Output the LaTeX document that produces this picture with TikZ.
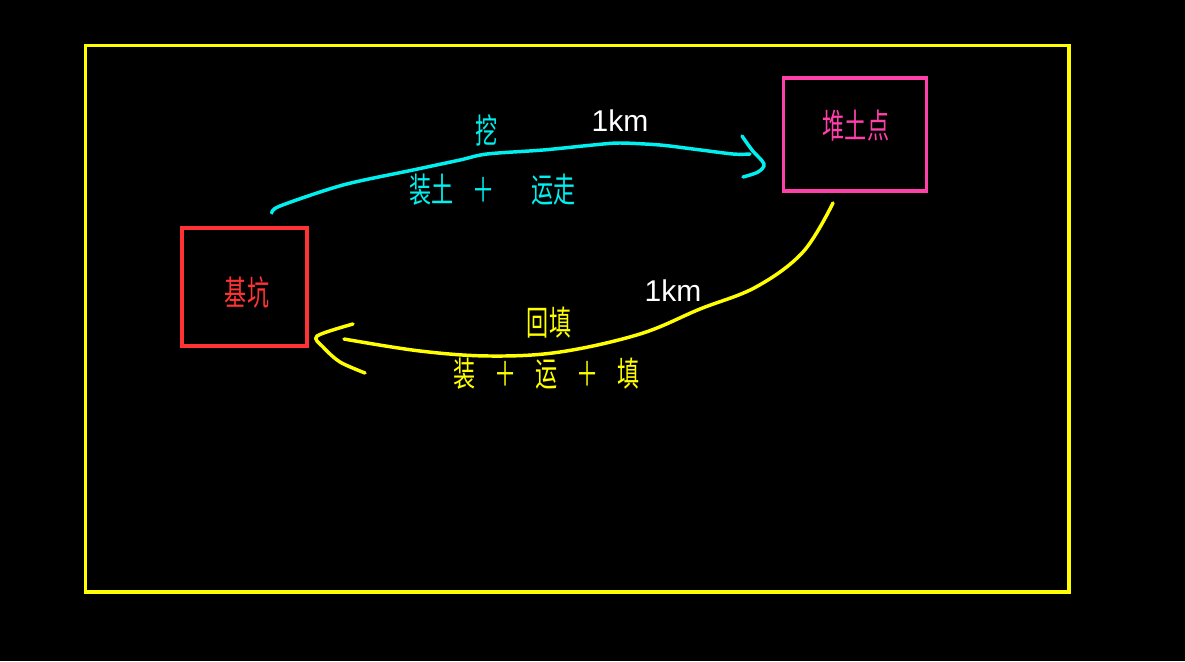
\documentclass[tikz,border=0pt]{standalone}
\usepackage{fontspec}
\setmainfont{Liberation Sans}
\newfontfamily\cjk{Noto Sans CJK SC}
\definecolor{cadyellow}{RGB}{255,255,0}
\definecolor{cadcyan}{RGB}{0,240,240}
\definecolor{cadred}{RGB}{255,51,51}
\definecolor{cadpink}{RGB}{255,64,170}
\tikzset{
  cadbox/.style={draw, line width=2.5pt, inner sep=0pt},
  cadtext/.style={inner sep=0pt, xscale=0.65, font=\cjk\fontsize{25.5}{30}\selectfont},
  kmtext/.style={inner sep=0pt, text=white, font=\fontsize{22.5}{26}\selectfont},
  route/.style={line width=2.6pt, line cap=round, line join=round}
}

\begin{document}
\begin{tikzpicture}[x=0.75pt,y=0.75pt,yscale=-1,xscale=1]
	\fill[black] (0,0) rectangle (1185,661);
	\useasboundingbox (0,0) rectangle (1185,661);
	\draw [cadyellow, line width=2.5pt] (85.5,45.5) rectangle (1069,592);
	% boxes
	\node [cadbox, cadred, minimum width=93.75pt, minimum height=88.5pt] (jikeng) at (244.5,287) {};
	\node [cadbox, cadpink, minimum width=107.25pt, minimum height=84.75pt] (duitu) at (855,134.5) {};
	\node [cadtext, text=cadred] (jikenglbl) at (247,293) {基坑};
	\node [cadtext, text=cadpink] (duitulbl) at (856,126) {堆土点};
	% excavation route
	\coordinate (wastart) at (272,213);
	\coordinate (watip) at (764,164);
	\draw [cadcyan, route] plot [smooth, tension=0.5] coordinates {(wastart) (280,206) (343,185) (413,170) (460,160) (487,154) (543,150) (593,145) (620,143) (660,145) (693,149) (733,154) (750,154)};
	\draw [cadcyan, route] plot [smooth, tension=0.5] coordinates {(742,136) (752,150) (watip) (758,172) (743,177)};
	\node [cadtext, text=cadcyan] (walbl) at (487,130) {挖};
	\node [kmtext] (km1) at (620,121) {1km};
	\node [cadtext, text=cadcyan, anchor=west] (walbl2) at (409,190) {装土\hspace{22pt}＋\hspace{43pt}运走};
	% backfill route
	\coordinate (hustart) at (833,203);
	\coordinate (hutip) at (317,336);
	\draw [cadyellow, route] plot [smooth, tension=0.6] coordinates {(hustart) (803,252) (756,287) (700,309) (640,334) (560,352) (490,356) (420,351) (344,339)};
	\draw [cadyellow, route] plot [smooth, tension=0.5] coordinates {(353,324) (hutip) (323,347) (340,362) (365,373)};
	\node [kmtext] (km2) at (673,291) {1km};
	\node [cadtext, text=cadyellow] (hulbl) at (549,323) {回填};
	\node [cadtext, text=cadyellow, anchor=west] (hulbl2) at (453,374) {装\hspace{22pt}＋\hspace{22pt}运\hspace{22pt}＋\hspace{22pt}填};
\end{tikzpicture}
\end{document}
